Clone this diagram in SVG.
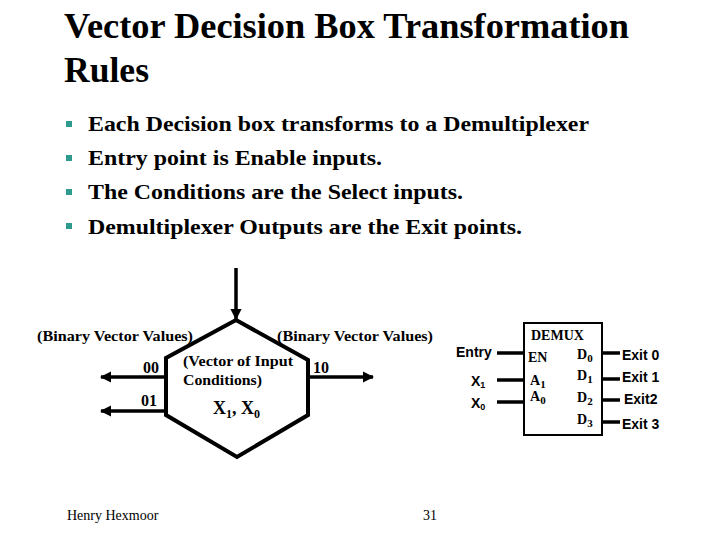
<svg xmlns="http://www.w3.org/2000/svg" width="720" height="540" viewBox="0 0 720 540">
<defs>
<style>
.title{font-family:"Liberation Serif","Times New Roman",serif;font-size:36px;font-weight:bold;fill:#000}
.bul{font-family:"Liberation Serif","Times New Roman",serif;font-size:21px;font-weight:bold;fill:#000}
.sq{fill:#2f9a8e}
.lbl{font-family:"Liberation Serif","Times New Roman",serif;font-size:14px;font-weight:bold;fill:#000}
.num{font-family:"Liberation Serif","Times New Roman",serif;font-size:16px;font-weight:bold;fill:#000}
.big{font-family:"Liberation Serif","Times New Roman",serif;font-size:18px;font-weight:bold;fill:#000}
.sans{font-family:"Liberation Sans",Arial,sans-serif;font-size:14px;font-weight:bold;fill:#000}
.foot{font-family:"Liberation Serif","Times New Roman",serif;font-size:14px;fill:#000}
.ln{stroke:#000;stroke-width:3.5;fill:none}
</style>
<marker id="ah" viewBox="0 0 10 10" refX="9" refY="5" markerWidth="3.2" markerHeight="3.2" orient="auto" markerUnits="strokeWidth">
<path d="M0,0 L10,5 L0,10 z" fill="#000"/>
</marker>
</defs>
<rect width="720" height="540" fill="#fff"/>

<g id="title">
<text class="title" x="64" y="38" textLength="565" lengthAdjust="spacingAndGlyphs">Vector Decision Box Transformation</text>
<text class="title" x="64" y="82" textLength="85" lengthAdjust="spacingAndGlyphs">Rules</text>
</g>

<g id="bullets">
<rect class="sq" x="66" y="121" width="6" height="6"/>
<text class="bul" x="88" y="131" textLength="501" lengthAdjust="spacingAndGlyphs">Each Decision box transforms to a Demultiplexer</text>
<rect class="sq" x="66" y="155" width="6" height="6"/>
<text class="bul" x="88" y="165" textLength="294" lengthAdjust="spacingAndGlyphs">Entry point is Enable inputs.</text>
<rect class="sq" x="66" y="189" width="6" height="6"/>
<text class="bul" x="88" y="199" textLength="375" lengthAdjust="spacingAndGlyphs">The Conditions are the Select inputs.</text>
<rect class="sq" x="66" y="223" width="6" height="6"/>
<text class="bul" x="88" y="234" textLength="434" lengthAdjust="spacingAndGlyphs">Demultiplexer Outputs are the Exit points.</text>
</g>

<g id="decision-box">
<polygon points="236,320 308,360 308,415 237,457 166,415 166,358" fill="none" stroke="#000" stroke-width="4" stroke-linejoin="miter"/>
<text class="lbl" x="183" y="366" textLength="110" lengthAdjust="spacingAndGlyphs">(Vector of Input</text>
<text class="lbl" x="183" y="385" textLength="79" lengthAdjust="spacingAndGlyphs">Conditions)</text>
<text class="big" x="213" y="414">X<tspan font-size="12" dy="4">1</tspan><tspan dy="-4">, X</tspan><tspan font-size="12" dy="4">0</tspan></text>
</g>

<g id="labels">
<text class="lbl" x="37" y="341" textLength="156" lengthAdjust="spacingAndGlyphs">(Binary Vector Values)</text>
<text class="lbl" x="277" y="341" textLength="156" lengthAdjust="spacingAndGlyphs">(Binary Vector Values)</text>
<text class="num" x="143" y="373">00</text>
<text class="num" x="141" y="406">01</text>
<text class="num" x="313" y="373">10</text>
</g>

<g id="demux">
<rect x="524" y="323" width="78" height="112" fill="#fff" stroke="#000" stroke-width="2"/>
<text class="lbl" x="531" y="340">DEMUX</text>
<text class="lbl" x="528" y="362">EN</text>
<text class="lbl" x="530" y="385">A<tspan font-size="11" dy="3">1</tspan></text>
<text class="lbl" x="530" y="401">A<tspan font-size="11" dy="3">0</tspan></text>
<text class="lbl" x="577" y="359">D<tspan font-size="11" dy="3">0</tspan></text>
<text class="lbl" x="577" y="380">D<tspan font-size="11" dy="3">1</tspan></text>
<text class="lbl" x="577" y="402">D<tspan font-size="11" dy="3">2</tspan></text>
<text class="lbl" x="577" y="424">D<tspan font-size="11" dy="3">3</tspan></text>
</g>

<g id="demux-labels">
<text class="sans" x="456" y="357">Entry</text>
<text class="sans" x="471" y="386">X<tspan font-size="9" dy="2">1</tspan></text>
<text class="sans" x="471" y="408">X<tspan font-size="9" dy="2">0</tspan></text>
<text class="sans" x="622" y="360">Exit 0</text>
<text class="sans" x="622" y="382">Exit 1</text>
<text class="sans" x="624" y="404">Exit2</text>
<text class="sans" x="622" y="429">Exit 3</text>
</g>

<g id="connectors">
<line class="ln" x1="236" y1="268" x2="236" y2="319" marker-end="url(#ah)"/>
<line class="ln" x1="166" y1="377" x2="101" y2="377" marker-end="url(#ah)"/>
<line class="ln" x1="166" y1="411" x2="101" y2="411" marker-end="url(#ah)"/>
<line class="ln" x1="308" y1="377" x2="373" y2="377" marker-end="url(#ah)"/>
<line class="ln" x1="497" y1="353" x2="524" y2="353"/>
<line class="ln" x1="497" y1="380" x2="524" y2="380"/>
<line class="ln" x1="497" y1="402" x2="524" y2="402"/>
<line class="ln" x1="602" y1="353" x2="620" y2="353"/>
<line class="ln" x1="602" y1="379" x2="620" y2="379"/>
<line class="ln" x1="602" y1="400" x2="620" y2="400"/>
<line class="ln" x1="602" y1="422" x2="620" y2="422"/>
</g>

<g id="footer">
<text class="foot" x="67" y="520">Henry Hexmoor</text>
<text class="foot" x="423" y="520">31</text>
</g>
</svg>
